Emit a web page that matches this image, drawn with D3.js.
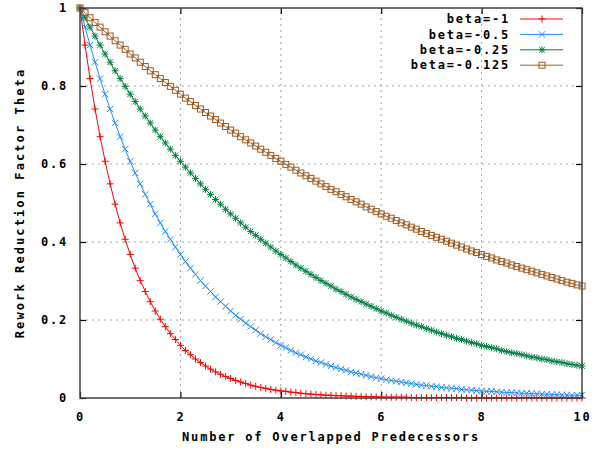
<!DOCTYPE html>
<html>
<head>
<meta charset="utf-8">
<script src="https://cdn.jsdelivr.net/npm/d3@7"></script>
<style>
  body { margin: 0; background: #fff; }
  text { font-family: "DejaVu Sans Mono", monospace; font-weight: bold; fill: #000; }
</style>
</head>
<body>
<div id="chart"></div>
<script>
// x positions: 0 .. 10 in steps of 0.1
const xs = d3.range(0, 101).map(k => k / 10);

const betaLabels = ["beta=-1", "beta=-0.5", "beta=-0.25", "beta=-0.125"];

const theta1 = [
  1.000, 0.905, 0.819, 0.741, 0.670, 0.607, 0.549, 0.497, 0.449, 0.407,
  0.368, 0.333, 0.301, 0.273, 0.247, 0.223, 0.202, 0.183, 0.165, 0.150,
  0.135, 0.122, 0.111, 0.100, 0.091, 0.082, 0.074, 0.067, 0.061, 0.055,
  0.050, 0.045, 0.041, 0.037, 0.033, 0.030, 0.027, 0.025, 0.022, 0.020,
  0.018, 0.017, 0.015, 0.014, 0.012, 0.011, 0.010, 0.009, 0.008, 0.007,
  0.007, 0.006, 0.006, 0.005, 0.005, 0.004, 0.004, 0.003, 0.003, 0.003,
  0.002, 0.002, 0.002, 0.002, 0.002, 0.002, 0.001, 0.001, 0.001, 0.001,
  0.001, 0.001, 0.001, 0.001, 0.001, 0.001, 0.001, 0.000, 0.000, 0.000,
  0.000, 0.000, 0.000, 0.000, 0.000, 0.000, 0.000, 0.000, 0.000, 0.000,
  0.000, 0.000, 0.000, 0.000, 0.000, 0.000, 0.000, 0.000, 0.000, 0.000,
  0.000
];

const theta05 = [
  1.000, 0.951, 0.905, 0.861, 0.819, 0.779, 0.741, 0.705, 0.670, 0.638,
  0.607, 0.577, 0.549, 0.522, 0.497, 0.472, 0.449, 0.427, 0.407, 0.387,
  0.368, 0.350, 0.333, 0.317, 0.301, 0.287, 0.273, 0.259, 0.247, 0.235,
  0.223, 0.212, 0.202, 0.192, 0.183, 0.174, 0.165, 0.157, 0.150, 0.142,
  0.135, 0.129, 0.122, 0.116, 0.111, 0.105, 0.100, 0.095, 0.091, 0.086,
  0.082, 0.078, 0.074, 0.071, 0.067, 0.064, 0.061, 0.058, 0.055, 0.052,
  0.050, 0.047, 0.045, 0.043, 0.041, 0.039, 0.037, 0.035, 0.033, 0.032,
  0.030, 0.029, 0.027, 0.026, 0.025, 0.024, 0.022, 0.021, 0.020, 0.019,
  0.018, 0.017, 0.017, 0.016, 0.015, 0.014, 0.014, 0.013, 0.012, 0.012,
  0.011, 0.011, 0.010, 0.010, 0.009, 0.009, 0.008, 0.008, 0.007, 0.007,
  0.007
];

const theta025 = [
  1.000, 0.975, 0.951, 0.928, 0.905, 0.882, 0.861, 0.839, 0.819, 0.799,
  0.779, 0.760, 0.741, 0.723, 0.705, 0.687, 0.670, 0.654, 0.638, 0.622,
  0.607, 0.592, 0.577, 0.563, 0.549, 0.535, 0.522, 0.509, 0.497, 0.484,
  0.472, 0.461, 0.449, 0.438, 0.427, 0.417, 0.407, 0.397, 0.387, 0.377,
  0.368, 0.359, 0.350, 0.341, 0.333, 0.325, 0.317, 0.309, 0.301, 0.294,
  0.287, 0.279, 0.273, 0.266, 0.259, 0.253, 0.247, 0.241, 0.235, 0.229,
  0.223, 0.218, 0.212, 0.207, 0.202, 0.197, 0.192, 0.187, 0.183, 0.178,
  0.174, 0.169, 0.165, 0.161, 0.157, 0.153, 0.150, 0.146, 0.142, 0.139,
  0.135, 0.132, 0.129, 0.126, 0.122, 0.119, 0.116, 0.114, 0.111, 0.108,
  0.105, 0.103, 0.100, 0.098, 0.095, 0.093, 0.091, 0.088, 0.086, 0.084,
  0.082
];

const theta0125 = [
  1.000, 0.988, 0.975, 0.963, 0.951, 0.939, 0.928, 0.916, 0.905, 0.894,
  0.882, 0.872, 0.861, 0.850, 0.839, 0.829, 0.819, 0.809, 0.799, 0.789,
  0.779, 0.769, 0.760, 0.750, 0.741, 0.732, 0.723, 0.714, 0.705, 0.696,
  0.687, 0.679, 0.670, 0.662, 0.654, 0.646, 0.638, 0.630, 0.622, 0.614,
  0.607, 0.599, 0.592, 0.584, 0.577, 0.570, 0.563, 0.556, 0.549, 0.542,
  0.535, 0.529, 0.522, 0.516, 0.509, 0.503, 0.497, 0.490, 0.484, 0.478,
  0.472, 0.466, 0.461, 0.455, 0.449, 0.444, 0.438, 0.433, 0.427, 0.422,
  0.417, 0.412, 0.407, 0.402, 0.397, 0.392, 0.387, 0.382, 0.377, 0.373,
  0.368, 0.363, 0.359, 0.354, 0.350, 0.346, 0.341, 0.337, 0.333, 0.329,
  0.325, 0.321, 0.317, 0.313, 0.309, 0.305, 0.301, 0.297, 0.294, 0.290,
  0.287
];

const xTicks = [0, 2, 4, 6, 8, 10];
const yTicks = [0, 0.2, 0.4, 0.6, 0.8, 1];

const series = [
  { name: betaLabels[0], values: theta1, color: "#ff0000", marker: "plus" },
  { name: betaLabels[1], values: theta05, color: "#1e8cff", marker: "cross" },
  { name: betaLabels[2], values: theta025, color: "#008040", marker: "star" },
  { name: betaLabels[3], values: theta0125, color: "#a05a20", marker: "square" }
];

const W = 607, H = 450;
const margin = { left: 80, right: 25, top: 8, bottom: 52 };

const svg = d3.select("#chart").append("svg")
  .attr("width", W).attr("height", H);

const x = d3.scaleLinear().domain([0, 10]).range([margin.left, W - margin.right]);
const y = d3.scaleLinear().domain([0, 1]).range([H - margin.bottom, margin.top]);

// grid
const grid = svg.append("g")
  .attr("stroke", "#a0a0a0").attr("stroke-dasharray", "2,4").attr("stroke-width", 1);
xTicks.slice(1, -1).forEach(t => {
  grid.append("line").attr("x1", x(t)).attr("x2", x(t)).attr("y1", y(0)).attr("y2", y(1));
});
yTicks.slice(1, -1).forEach(t => {
  grid.append("line").attr("x1", x(0)).attr("x2", x(10)).attr("y1", y(t)).attr("y2", y(t));
});

// axes (ticks inward, mirrored)
const fmtY = d => d === 0 ? "0" : d === 1 ? "1" : String(d);
svg.append("g").attr("transform", `translate(0,${y(0)})`)
  .call(d3.axisBottom(x).tickValues(xTicks).tickSize(-6).tickPadding(14).tickFormat(d3.format("d")));
svg.append("g").attr("transform", `translate(0,${y(1)})`)
  .call(d3.axisTop(x).tickValues(xTicks).tickSize(-6).tickFormat(""));
svg.append("g").attr("transform", `translate(${x(0)},0)`)
  .call(d3.axisLeft(y).tickValues(yTicks).tickSize(-6).tickPadding(12).tickFormat(fmtY));
svg.append("g").attr("transform", `translate(${x(10)},0)`)
  .call(d3.axisRight(y).tickValues(yTicks).tickSize(-6).tickFormat(""));

svg.selectAll(".domain").remove();
svg.selectAll(".tick line").attr("stroke", "#000").attr("stroke-width", 1.2);
svg.selectAll(".tick text")
  .style("font-family", "'DejaVu Sans Mono', monospace")
  .style("font-weight", "bold")
  .style("font-size", "12px")
  .style("letter-spacing", "1.8px")
  .attr("fill", "#000");

// markers
function drawMarker(g, type, cx, cy, color) {
  const s = 3.5;
  if (type === "plus" || type === "star") {
    g.append("line").attr("x1", cx - s).attr("x2", cx + s).attr("y1", cy).attr("y2", cy).attr("stroke", color);
    g.append("line").attr("x1", cx).attr("x2", cx).attr("y1", cy - s).attr("y2", cy + s).attr("stroke", color);
  }
  if (type === "cross" || type === "star") {
    const c = type === "star" ? 2.8 : 3.2;
    g.append("line").attr("x1", cx - c).attr("x2", cx + c).attr("y1", cy - c).attr("y2", cy + c).attr("stroke", color);
    g.append("line").attr("x1", cx - c).attr("x2", cx + c).attr("y1", cy + c).attr("y2", cy - c).attr("stroke", color);
  }
  if (type === "square") {
    g.append("rect").attr("x", cx - 3).attr("y", cy - 3).attr("width", 6).attr("height", 6)
      .attr("fill", "none").attr("stroke", color);
  }
}

const line = d3.line().x((d, i) => x(xs[i])).y(d => y(d));

series.forEach(s => {
  const g = svg.append("g");
  g.append("path").datum(s.values)
    .attr("d", line).attr("fill", "none").attr("stroke", s.color).attr("stroke-width", 1);
  s.values.forEach((v, i) => drawMarker(g, s.marker, x(xs[i]), y(v), s.color));
});

// border
svg.append("rect")
  .attr("x", x(0)).attr("y", y(1))
  .attr("width", x(10) - x(0)).attr("height", y(0) - y(1))
  .attr("fill", "none").attr("stroke", "#404040").attr("stroke-width", 1.5);

// legend
const legend = svg.append("g").attr("transform", `translate(${x(10)},0)`);
series.forEach((s, i) => {
  const ly = 19 + i * 15.4;
  legend.append("text")
    .attr("x", -72).attr("y", ly).attr("dy", "0.35em")
    .attr("text-anchor", "end")
    .style("font-size", "12px").style("letter-spacing", "1.8px")
    .text(s.name);
  legend.append("line")
    .attr("x1", -62).attr("x2", -19).attr("y1", ly).attr("y2", ly)
    .attr("stroke", s.color).attr("stroke-width", 1);
  drawMarker(legend, s.marker, -40, ly, s.color);
});

// axis titles
svg.append("text")
  .attr("x", (x(0) + x(10)) / 2).attr("y", 441)
  .attr("text-anchor", "middle")
  .style("font-size", "12px").style("letter-spacing", "1.8px")
  .text("Number of Overlapped Predecessors");

svg.append("text")
  .attr("transform", `translate(24,${(y(0) + y(1)) / 2}) rotate(-90)`)
  .attr("text-anchor", "middle")
  .style("font-size", "12px").style("letter-spacing", "2.1px")
  .text("Rework Reduction Factor Theta");
</script>
</body>
</html>
